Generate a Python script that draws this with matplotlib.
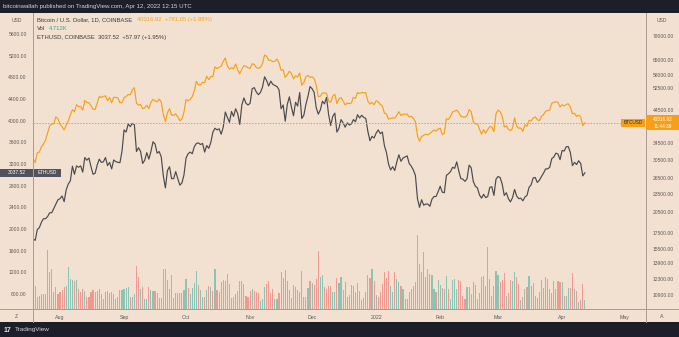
import numpy as np
import pandas as pd
import matplotlib
matplotlib.use("Agg")
import matplotlib.pyplot as plt
import matplotlib.dates as mdates
from matplotlib.patches import Rectangle
from matplotlib.lines import Line2D

plt.rcParams['font.family'] = ['Liberation Sans', 'DejaVu Sans']

# ---------------- data ----------------
start_date = "2021-07-19"
end_date = "2022-04-12"

btc_close = [
    # Jul 19-31
    30800, 29800, 32100, 32300, 33600, 34300, 35400, 37300, 39400, 40000, 40000, 42200, 41600,
    # Aug
    39900, 39200, 38200, 39700, 40900, 42800, 44600, 43800, 46300, 45600, 45600, 44400, 47800, 47100, 47000,
    45900, 44700, 44700, 46800, 49300, 48900, 49300, 49500, 47700, 48900, 47000, 49000, 48900, 48800, 47000, 47100,
    # Sep
    48800, 49300, 50000, 49900, 51800, 52700, 46900, 46100, 46400, 44900, 45200, 46100, 44900, 47100, 48200,
    47700, 47300, 48300, 47300, 43000, 40700, 43600, 44900, 42800, 42700, 43200, 42200, 41000, 41500, 43800,
    # Oct
    48100, 47700, 48200, 49200, 51500, 55300, 53800, 53900, 54900, 54700, 57500, 56000, 57400, 57300, 61700,
    60900, 61500, 62000, 64300, 66000, 62200, 60700, 61300, 60900, 63100, 60300, 58500, 60600, 62300, 61900, 61300,
    # Nov
    61000, 63200, 62900, 61400, 61000, 61500, 63300, 67500, 66900, 64900, 64900, 64200, 64400, 65500, 63600,
    60100, 60400, 56900, 58100, 59700, 58700, 56300, 57600, 57200, 58900, 53700, 54800, 57300, 57800, 57000,
    # Dec
    57200, 56500, 53600, 49200, 49400, 50600, 50600, 50500, 47600, 47100, 49400, 50100, 46700, 48400, 48900,
    47600, 46200, 46900, 46700, 46900, 49000, 48600, 50800, 50400, 50800, 50700, 50700, 47500, 46500, 47100, 46300,
    # Jan
    47700, 47300, 46400, 45800, 43400, 43100, 41500, 41700, 41900, 41800, 42700, 43900, 42600, 43100, 43100,
    43100, 42200, 42400, 41700, 40700, 36500, 35100, 36300, 36700, 37000, 36800, 37200, 37700, 38200, 37900, 38500,
    # Feb
    38700, 36900, 37300, 41600, 41400, 42400, 43800, 44100, 44400, 43600, 42400, 42200, 42100, 42600, 44600,
    43900, 40600, 40000, 40100, 38400, 37000, 38300, 37300, 38300, 39200, 39100, 37700, 43200,
    # Mar
    44400, 43900, 42500, 39100, 39400, 38400, 38000, 38700, 41900, 39400, 38700, 38800, 37800, 39700, 39300,
    41100, 40900, 41800, 42200, 41300, 41000, 42400, 42900, 44000, 44300, 44500, 46800, 47100, 47400, 47100, 45500,
    # Apr 1-12
    46300, 45800, 46400, 46600, 45500, 43200, 43400, 42300, 42800, 42200, 39500, 40316.92,
]

eth_close = [
    # Jul 19-31
    1820, 1790, 1990, 2025, 2125, 2190, 2190, 2230, 2300, 2300, 2380, 2460, 2540,
    # Aug
    2560, 2610, 2505, 2725, 2830, 2890, 3160, 3010, 3165, 3140, 3165, 3050, 3320, 3270, 3310,
    3150, 3010, 3030, 3180, 3290, 3230, 3240, 3320, 3170, 3230, 3110, 3275, 3245, 3230, 3225, 3435,
    # Sep
    3830, 3790, 3940, 3890, 3950, 3925, 3430, 3500, 3430, 3210, 3270, 3410, 3290, 3430, 3610,
    3570, 3400, 3430, 3330, 2980, 2760, 3080, 3150, 2930, 2930, 3060, 2930, 2810, 2850, 3000,
    # Oct
    3310, 3390, 3420, 3390, 3520, 3580, 3590, 3560, 3580, 3420, 3540, 3490, 3600, 3790, 3860,
    3830, 3850, 3750, 3880, 4160, 4060, 3970, 4170, 4080, 4220, 4130, 3930, 4290, 4420, 4320, 4290,
    # Nov
    4320, 4590, 4610, 4530, 4480, 4520, 4620, 4810, 4740, 4640, 4730, 4670, 4650, 4630, 4570,
    4220, 4290, 3990, 4300, 4440, 4250, 4090, 4340, 4270, 4520, 4040, 4100, 4300, 4450, 4630,
    # Dec
    4590, 4520, 4240, 4120, 4200, 4360, 4310, 4430, 4110, 3910, 4080, 4140, 3790, 3860, 4020,
    3960, 3880, 3960, 3920, 3940, 4020, 3980, 4110, 4050, 4100, 4060, 4040, 3800, 3630, 3710, 3680,
    # Jan
    3770, 3830, 3760, 3790, 3540, 3410, 3200, 3090, 3150, 3080, 3240, 3370, 3250, 3310, 3330,
    3350, 3210, 3160, 3090, 2990, 2560, 2400, 2540, 2440, 2460, 2460, 2420, 2550, 2600, 2600, 2690,
    # Feb
    2790, 2680, 2670, 2990, 3020, 3060, 3140, 3120, 3240, 3070, 2930, 2920, 2880, 2930, 3180,
    3130, 2880, 2790, 2760, 2630, 2570, 2640, 2580, 2600, 2770, 2780, 2620, 2920,
    # Mar
    2970, 2950, 2830, 2620, 2670, 2560, 2500, 2580, 2730, 2610, 2560, 2570, 2520, 2590, 2620,
    2770, 2815, 2945, 2950, 2860, 2900, 2970, 3030, 3110, 3110, 3140, 3300, 3330, 3400, 3385, 3280,
    # Apr 1-12
    3450, 3440, 3520, 3520, 3410, 3170, 3230, 3190, 3260, 3210, 2980, 3037.52,
]

btc_volume_k = [
    13.5, 11.5, 6, 6.5, 7.5, 7.5, 7.5, 29.5, 18.5, 20,
    8.5, 11, 7.5, 8.5, 9.5, 11, 11.5, 21, 15, 14.5,
    14, 14.5, 10, 8.5, 10, 9, 6, 6, 8.5, 9.5,
    8.5, 9, 10, 7.5, 5, 8.5, 9, 8, 8.5, 7.5,
    5, 6, 9.5, 9.5, 10, 10.5, 11, 6, 6, 7.5,
    21.5, 16, 10, 11, 5, 5, 11, 9.5, 9, 9,
    8, 5.5, 5.5, 20, 20, 14.5, 10, 17, 5.5, 8,
    8, 8, 8, 9.5, 15, 10.5, 7.5, 10.5, 13, 19,
    12, 9.5, 6, 6, 9.5, 11.5, 11, 9, 20, 9.5,
    8.5, 13.5, 14.5, 14, 17.5, 12.5, 5.5, 6, 7.5, 9,
    14, 14, 12.5, 6.5, 6, 9, 10, 9, 8.5, 8,
    4, 5, 11, 12.5, 14, 8, 10, 5, 5, 8,
    18.5, 15.5, 19.5, 14, 9.5, 5.5, 12, 11, 9.5, 8.5,
    19, 6, 6, 10.5, 14, 13, 12, 15, 29,
    16, 17, 11, 10, 11.5, 11.5, 8.5, 8.5, 15.5, 13,
    16, 9.5, 13.5, 6, 7, 12, 11.5, 8.5, 13, 9,
    4.5, 5.5, 8.5, 17, 15.5, 20, 14, 7, 6, 8.5,
    12.5, 18.5, 15.5, 19, 11.5, 8.5, 18.5, 15, 13.5, 11.5,
    10, 5, 5, 8.5, 10, 11.5, 13.5, 37, 22.5, 18.5,
    28.5, 16, 20, 17.5, 17, 10, 8.5, 14.5, 12,
    10.5, 10, 16.5, 10, 5, 14.5, 15, 10, 14.5, 14,
    6.5, 5, 11, 11, 7.5, 13.5, 12, 5, 8, 16,
    16.5, 11.5, 31, 15, 6.5, 11.5, 19, 17, 13.5, 14.5,
    18, 6.5, 8, 14.5, 14, 18.5, 16, 12.5, 4.5, 6,
    10, 11, 16.5, 11.5, 13, 6.5, 5.5, 8.5, 14.5, 10.5,
    16, 15, 10, 8, 14, 10, 14, 13.5, 13.5, 6.5,
    6.5, 10.5, 10.5, 18, 10, 9, 3.5, 4.5, 12.5, 4.712,
]

month_ticks = ["2021-08-01", "2021-09-01", "2021-10-01", "2021-11-01", "2021-12-01",
               "2022-01-01", "2022-02-01", "2022-03-01", "2022-04-01", "2022-05-01"]
month_labels = ["Aug", "Sep", "Oct", "Nov", "Dec", "2022", "Feb", "Mar", "Apr", "May"]
eth_ticks = [800, 1200, 1600, 2000, 2400, 2800, 3200, 3600, 4000, 4400, 4800, 5200, 5600]
btc_ticks = [10900, 12300, 13900, 15500, 17500, 20500, 23500, 26500, 30500, 34500,
             44500, 52500, 58000, 65000, 78000]

# ---------------- style ----------------
W, H = 679, 337
BG = "#f2e1d1"
DARK = "#1c1f29"
ORANGE = "#f6a01a"
ETHC = "#4a4a4f"
TXT = "#5d5a57"
SEP = "#a89c90"
GREEN = "#26a69a"
RED = "#ef5350"

def fx(x):
    return x / W

def fy(y):
    return 1 - y / H

fig = plt.figure(figsize=(W / 100, H / 100), dpi=100, facecolor=BG)

PL, PR, PT, PB = 33, 646, 13, 309
ax_vol = fig.add_axes([fx(PL), fy(PB), fx(PR) - fx(PL), fy(PT) - fy(PB)])
ax_vol.set_facecolor(BG)
ax_eth = ax_vol.twinx()
ax_btc = ax_vol.twinx()

dates = pd.date_range(start_date, end_date, freq="D")
xnum = mdates.date2num(dates)
aug1 = mdates.date2num(pd.Timestamp("2021-08-01"))
xlo, xhi = aug1 - 13.07, aug1 + 283.6

btc = np.array(btc_close, dtype=float)
eth = np.array(eth_close, dtype=float)
vol = np.array(btc_volume_k, dtype=float)
prev = np.concatenate([[btc[0]], btc[:-1]])
vcolors = [GREEN if c > p else RED for c, p in zip(btc, prev)]

# volume
ax_vol.bar(xnum, vol, width=0.55, color=vcolors, alpha=0.5, linewidth=0)
ax_vol.set_ylim(0, 148)
ax_vol.set_xlim(xlo, xhi)
ax_vol.yaxis.set_visible(False)
ax_vol.set_xticks(mdates.date2num(pd.to_datetime(month_ticks)))
ax_vol.set_xticklabels(month_labels)
ax_vol.tick_params(axis="x", length=0, pad=4.3, labelsize=3.8, labelcolor=TXT)

# ETH (left, linear)
ax_eth.plot(xnum, eth, color=ETHC, lw=0.85)
ax_eth.set_ylim(523.4, 5987.7)
ax_eth.yaxis.tick_left()
ax_eth.set_yticks(eth_ticks)
ax_eth.set_yticklabels([f"{v:.2f}" for v in eth_ticks])
ax_eth.tick_params(axis="y", length=0, pad=4.5, labelsize=3.6, labelcolor=TXT)

# BTC (right, log)
ax_btc.plot(xnum, btc, color=ORANGE, lw=0.85)
ax_btc.set_yscale("log")
ax_btc.set_ylim(9800, 92930)
ax_btc.yaxis.set_minor_locator(matplotlib.ticker.NullLocator())
ax_btc.set_yticks(btc_ticks)
ax_btc.set_yticklabels([f"{v:.2f}" for v in btc_ticks])
ax_btc.tick_params(axis="y", length=0, pad=5.0, labelsize=3.6, labelcolor=TXT)
ax_btc.axhline(btc[-1], xmin=0, xmax=(621 - PL) / (PR - PL), color=ORANGE,
               lw=0.7, ls=(0, (1.5, 1.5)))
ax_btc.set_xlim(xlo, xhi)
ax_eth.set_xlim(xlo, xhi)

for a in (ax_vol, ax_eth, ax_btc):
    for s in a.spines.values():
        s.set_visible(False)

# ---------------- frame decorations ----------------
fig.patches.append(Rectangle((0, fy(12.5)), 1, 12.5 / H, transform=fig.transFigure,
                             facecolor=DARK, edgecolor="none", zorder=0))
fig.patches.append(Rectangle((0, 0), 1, (H - 322) / H, transform=fig.transFigure,
                             facecolor=DARK, edgecolor="none", zorder=0))
for (x0, y0, x1, y1) in [(PL, PT, PL, 322), (PR, PT, PR, 322), (0, PB, W, PB)]:
    fig.lines.append(Line2D([fx(x0), fx(x1)], [fy(y0), fy(y1)], transform=fig.transFigure,
                            color=SEP, lw=0.7))

fig.text(fx(3), fy(6.5), "bitcoinwallah published on TradingView.com, Apr 12, 2022 12:15 UTC",
         color="#d1d4dc", fontsize=4.45, va="center", ha="left")

# legend texts
fig.text(fx(37), fy(20), "Bitcoin / U.S. Dollar, 1D, COINBASE", color="#3a3a3a",
         fontsize=4.2, va="center")
fig.text(fx(137), fy(20), "40316.92  +781.05 (+1.98%)", color=ORANGE, fontsize=4.2, va="center")
fig.text(fx(37), fy(28.5), "Vol", color="#3a3a3a", fontsize=4.2, va="center")
fig.text(fx(49), fy(28.5), "4.712K", color="#3aa08f", fontsize=4.2, va="center")
fig.text(fx(37), fy(37), "ETHUSD, COINBASE  3037.52  +57.97 (+1.95%)", color="#3a3a3a",
         fontsize=4.2, va="center")

fig.text(fx(17), fy(20), "USD", color=TXT, fontsize=3.6, ha="center", va="center")
fig.text(fx(662), fy(20), "USD", color=TXT, fontsize=3.6, ha="center", va="center")
fig.text(fx(16), fy(316), "Z", color=TXT, fontsize=3.8, ha="center", va="center")
fig.text(fx(662), fy(316), "A", color=TXT, fontsize=3.8, ha="center", va="center")

fig.text(fx(4), fy(330), "17", color="#e0e3eb", fontsize=5, fontweight="bold", va="center")
fig.text(fx(14.5), fy(330), "TradingView", color="#d1d4dc", fontsize=4.6, va="center")

# price labels (positions derived from the data through the axes transforms)
inv = fig.transFigure.inverted()
y_btc = inv.transform(ax_btc.transData.transform((xnum[-1], btc[-1])))[1]
y_eth = inv.transform(ax_eth.transData.transform((xnum[-1], eth[-1])))[1]

bh = 15 / H
fig.patches.append(Rectangle((fx(PR), y_btc - bh / 2), fx(W) - fx(PR), bh, transform=fig.transFigure,
                             facecolor=ORANGE, edgecolor="none", zorder=5))
fig.text(fx(662.5), y_btc + 3.3 / H, f"{btc[-1]:.2f}", color="white", fontsize=3.4,
         ha="center", va="center", zorder=6)
fig.text(fx(662.5), y_btc - 3.3 / H, "11:44:39", color="white", fontsize=3.4,
         ha="center", va="center", zorder=6)
sh = 8 / H
fig.patches.append(Rectangle((fx(621), y_btc - sh / 2), fx(645) - fx(621), sh, transform=fig.transFigure,
                             facecolor=ORANGE, edgecolor="none", zorder=5))
fig.text(fx(633), y_btc, "BTCUSD", color="#2a2a2a", fontsize=3.4, ha="center", va="center", zorder=6)

fig.patches.append(Rectangle((0, y_eth - sh / 2), fx(PL - 0.5), sh, transform=fig.transFigure,
                             facecolor="#50535e", edgecolor="none", zorder=5))
fig.text(fx(16.5), y_eth, f"{eth[-1]:.2f}", color="white", fontsize=3.6, ha="center",
         va="center", zorder=6)
fig.patches.append(Rectangle((fx(34), y_eth - sh / 2), fx(61) - fx(34), sh, transform=fig.transFigure,
                             facecolor="#50535e", edgecolor="none", zorder=5))
fig.text(fx(47.5), y_eth, "ETHUSD", color="white", fontsize=3.4, ha="center", va="center", zorder=6)

fig.savefig("out.png", dpi=100, facecolor=BG)
